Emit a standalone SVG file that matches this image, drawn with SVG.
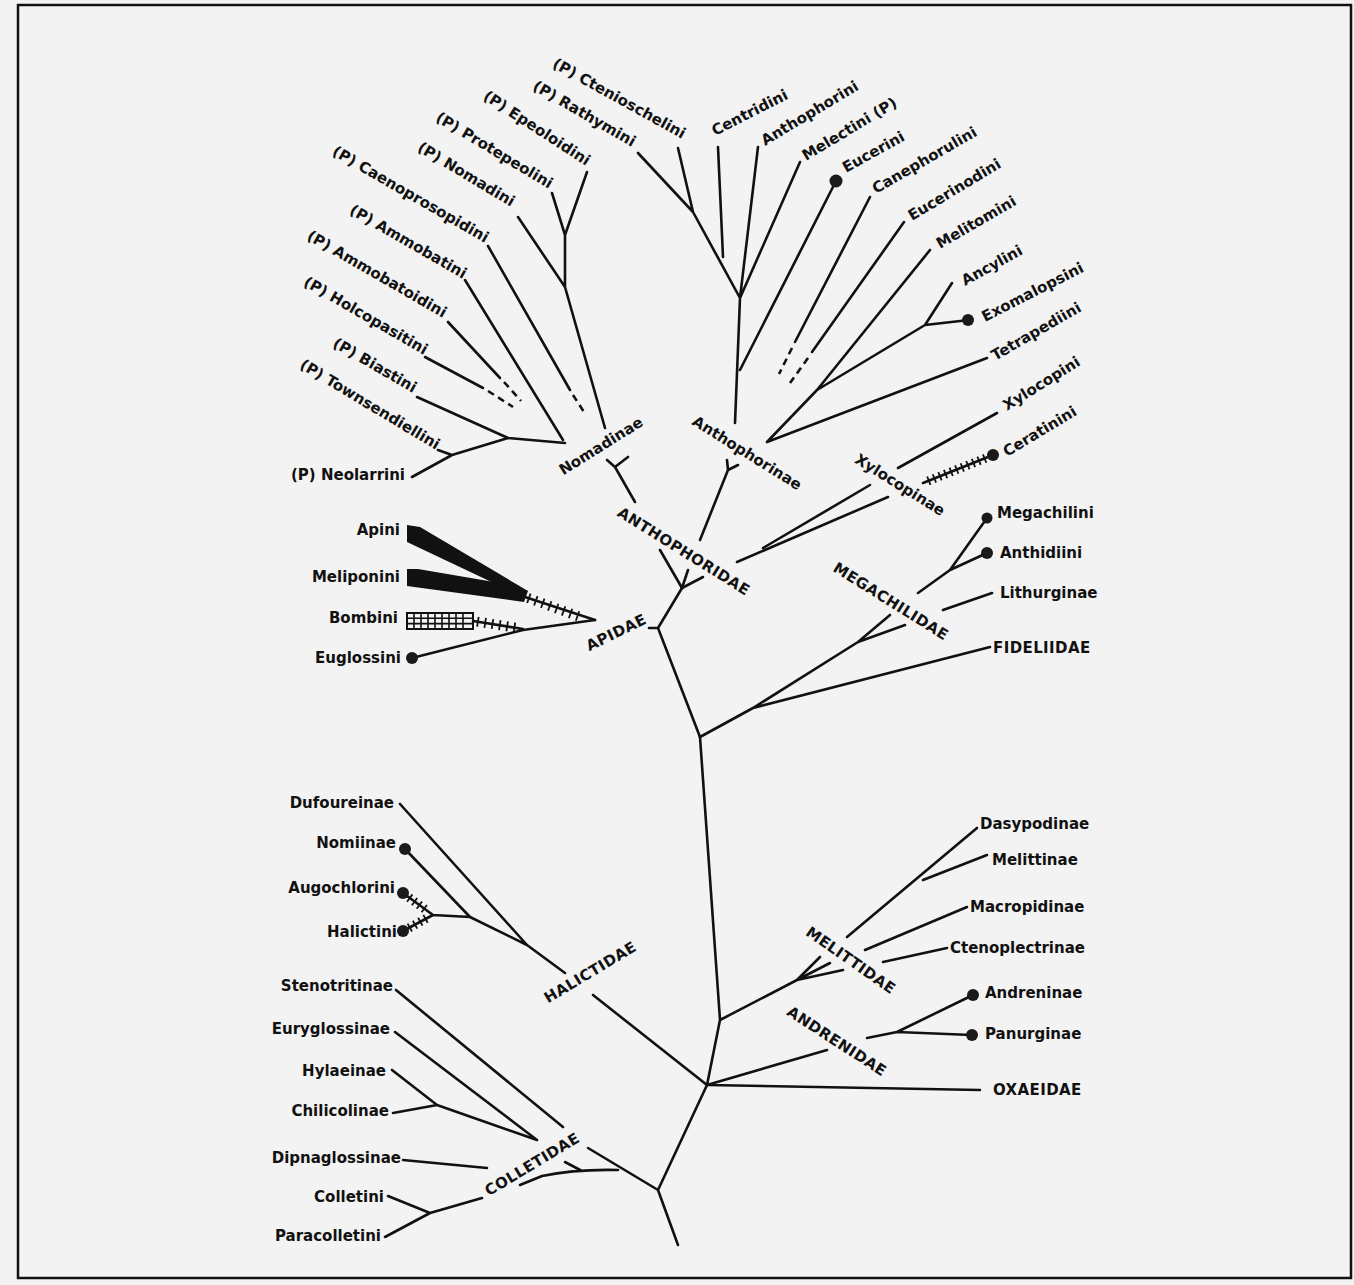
<svg xmlns="http://www.w3.org/2000/svg" width="1354" height="1285" viewBox="0 0 1354 1285">
<style>
.bg{fill:#f3f3f3}
.fr{fill:none;stroke:#111;stroke-width:2.5}
.e{fill:none;stroke:#111;stroke-width:2.6;stroke-linecap:round;stroke-linejoin:round}
.d{fill:none;stroke:#111;stroke-width:2.6;stroke-dasharray:7 5}
.tk{fill:none;stroke:#111;stroke-width:10;stroke-dasharray:1.8 5.6}
.tks{fill:none;stroke:#111;stroke-width:9;stroke-dasharray:1.8 4.2}
.dot{fill:#1a1a1a}
.w{fill:#111}
.g{fill:none;stroke:#111;stroke-width:1.6}
text{font-family:"DejaVu Sans","Liberation Sans",sans-serif;font-weight:bold;font-size:15px;fill:#111}
.f{font-size:15px;letter-spacing:0.4px}
.r{text-anchor:end}
.m{text-anchor:middle}
</style>
<rect class="bg" x="0" y="0" width="1354" height="1285"/>
<rect class="fr" x="18" y="5" width="1333" height="1273"/>

<g id="connectors">
<!-- Nomadinae group -->
<path class="e" d="M587,172 L565,235 M552,193 L565,235 M565,235 L565,287 M518,217 L565,287 M565,287 L605,428"/>
<path class="e" d="M488,246 L570,390"/><path class="d" d="M573,395 L584,412"/>
<path class="e" d="M465,280 L563,440"/>
<path class="e" d="M448,322 L500,378"/><path class="d" d="M504,382 L521,401"/>
<path class="e" d="M425,357 L483,388"/><path class="d" d="M488,391 L513,407"/>
<path class="e" d="M417,397 L508,438 M438,450 L452,455 M412,477 L452,455 L508,438 L565,443"/>
<path class="e" d="M607,460 L615,467 L628,457 M615,467 L635,502 M660,550 L682,588"/>
<!-- Anthophorinae group -->
<path class="e" d="M638,153 L693,212 M678,148 L693,212 L740,298 M718,147 L723,257 M758,147 L740,298 M800,162 L740,298 M836,181 L740,370 M740,298 L735,423"/>
<path class="e" d="M870,197 L795,342"/><path class="d" d="M792,348 L779,374"/>
<path class="e" d="M904,222 L812,352"/><path class="d" d="M808,358 L790,383"/>
<path class="e" d="M930,250 L817,390 M952,283 L925,325 L969,320 M925,325 L817,390 L767,442 M987,358 L767,442"/>
<path class="e" d="M727,460 L728,470 L738,465 M728,470 L700,540 M688,570 L682,588"/>
<!-- Xylocopinae -->
<path class="e" d="M682,588 L703,577 M737,562 L888,497 M763,548 L870,485 M898,468 L997,413 M923,483 L993,455"/>
<path class="tks" d="M928,481 L986,458"/>
<!-- Apidae -->
<path class="e" d="M682,588 L658,628 L700,737 M649,628 L658,628"/>
<polygon class="w" points="407,525 420,527 528,591 515,593 407,542"/>
<polygon class="w" points="407,569 418,569 500,583 528,591 524,602 407,586"/>
<path class="e" d="M525,597 L595,620"/>
<path class="tk" d="M528,598 L583,618"/>
<rect x="407" y="613" width="66" height="16" fill="#f3f3f3" stroke="#111" stroke-width="2"/>
<path class="g" d="M407,618.3 H473 M407,623.6 H473 M414,613 V629 M421,613 V629 M428,613 V629 M435,613 V629 M442,613 V629 M449,613 V629 M456,613 V629 M463,613 V629"/>
<path class="e" d="M473,621 L523,629 M412,658 L523,630 L595,620"/>
<path class="tk" d="M477,621.6 L518,628"/>
<!-- Megachilidae / Fideliidae -->
<path class="e" d="M700,737 L753,708 L858,642 L890,615 M858,642 L905,625 M753,708 L990,647 M918,593 L950,570 L987,518 M950,570 L987,553 M943,610 L992,593"/>
<!-- lower trunk -->
<path class="e" d="M700,737 L720,1020 L707,1085 M720,1020 L797,980 L820,957 M797,980 L830,963 M797,980 L843,970"/>
<path class="e" d="M847,937 L977,828 M923,880 L987,855 M865,950 L967,907 M883,962 L947,948"/>
<path class="e" d="M707,1085 L827,1050 M867,1038 L897,1032 L973,995 M897,1032 L972,1035 M707,1085 L980,1090"/>
<!-- Halictidae -->
<path class="e" d="M707,1085 L593,995 M565,973 L527,945 L400,804 M527,945 L470,917 L405,849 M470,917 L433,915 L403,893 M433,915 L403,931"/>
<path class="tks" d="M409,897.5 L426,910"/>
<path class="tks" d="M409,928 L427,918"/>
<!-- Colletidae -->
<path class="e" d="M707,1085 L658,1190 L678,1245 M658,1190 L588,1148 M618,1170 Q575,1169 542,1176 L520,1185 M582,1171 L565,1162"/>
<path class="e" d="M396,990 L563,1127 M395,1032 L537,1140 M392,1070 L437,1105 M393,1113 L437,1105 L537,1140 M403,1160 L487,1168 M388,1196 L430,1213 M385,1237 L430,1213 L482,1198"/>
</g>

<!-- Nomadinae leaves -->
<g id="ctenioschelini"><text class="r" transform="translate(682,139) rotate(29)">(P) Ctenioschelini</text></g>
<g id="rathymini"><text class="r" transform="translate(632,147) rotate(30)">(P) Rathymini</text></g>
<g id="epeoloidini"><text class="r" transform="translate(586,166) rotate(33)">(P) Epeoloidini</text></g>
<g id="protepeolini"><text class="r" transform="translate(549,189) rotate(31)">(P) Protepeolini</text></g>
<g id="nomadini"><text class="r" transform="translate(511,207) rotate(31)">(P) Nomadini</text></g>
<g id="caenoprosopidini"><text class="r" transform="translate(485,243) rotate(30)">(P) Caenoprosopidini</text></g>
<g id="ammobatini"><text class="r" transform="translate(463,279) rotate(30)">(P) Ammobatini</text></g>
<g id="ammobatoidini"><text class="r" transform="translate(443,318) rotate(30)">(P) Ammobatoidini</text></g>
<g id="holcopasitini"><text class="r" transform="translate(424,355) rotate(30)">(P) Holcopasitini</text></g>
<g id="biastini"><text class="r" transform="translate(413,393) rotate(30)">(P) Biastini</text></g>
<g id="townsendiellini"><text class="r" transform="translate(436,450) rotate(31)">(P) Townsendiellini</text></g>
<g id="neolarrini"><text class="r" x="405" y="480">(P) Neolarrini</text></g>

<!-- Anthophorinae leaves -->
<g id="centridini"><text transform="translate(715,136) rotate(-27)">Centridini</text></g>
<g id="anthophorini"><text transform="translate(765,146) rotate(-31)">Anthophorini</text></g>
<g id="melectini"><text transform="translate(806,161) rotate(-31)">Melectini (P)</text></g>
<g id="eucerini"><circle class="dot" cx="836" cy="181" r="6.5"/><text transform="translate(846,173) rotate(-29)">Eucerini</text></g>
<g id="canephorulini"><text transform="translate(876,194) rotate(-30)">Canephorulini</text></g>
<g id="eucerinodini"><text transform="translate(912,221) rotate(-31)">Eucerinodini</text></g>
<g id="melitomini"><text transform="translate(940,249) rotate(-30)">Melitomini</text></g>
<g id="ancylini"><text transform="translate(965,286) rotate(-29)">Ancylini</text></g>
<g id="exomalopsini"><circle class="dot" cx="968" cy="320" r="6"/><text transform="translate(985,322) rotate(-27)">Exomalopsini</text></g>
<g id="tetrapediini"><text transform="translate(995,361) rotate(-30)">Tetrapediini</text></g>
<g id="xylocopini"><text transform="translate(1007,411) rotate(-32)">Xylocopini</text></g>
<g id="ceratinini"><circle class="dot" cx="993" cy="455" r="6"/><text transform="translate(1007,457) rotate(-31)">Ceratinini</text></g>

<!-- subfamily / family labels -->
<g id="nomadinae"><text class="m" transform="translate(601,446) rotate(-32)" y="5">Nomadinae</text></g>
<g id="anthophorinae"><text class="m" transform="translate(747,453) rotate(32)" y="5">Anthophorinae</text></g>
<g id="xylocopinae"><text class="m" transform="translate(900,485) rotate(32)" y="5">Xylocopinae</text></g>
<g id="anthophoridae"><text class="m f" transform="translate(684,551) rotate(32)" y="5.5">ANTHOPHORIDAE</text></g>
<g id="apidae"><text class="m f" transform="translate(616,632) rotate(-26)" y="5.5">APIDAE</text></g>
<g id="megachilidae"><text class="m f" transform="translate(891,601) rotate(32)" y="5.5">MEGACHILIDAE</text></g>
<g id="melittidae"><text class="m f" transform="translate(851,960) rotate(35)" y="5.5">MELITTIDAE</text></g>
<g id="andrenidae"><text class="m f" transform="translate(837,1041) rotate(33)" y="5.5">ANDRENIDAE</text></g>
<g id="halictidae"><text class="m f" transform="translate(590,972) rotate(-31)" y="5.5">HALICTIDAE</text></g>
<g id="colletidae"><text class="m f" transform="translate(532,1164) rotate(-31)" y="5.5">COLLETIDAE</text></g>

<!-- Apidae leaves -->
<g id="apini"><text class="r" x="400" y="535">Apini</text></g>
<g id="meliponini"><text class="r" x="400" y="582">Meliponini</text></g>
<g id="bombini"><text class="r" x="398" y="623">Bombini</text></g>
<g id="euglossini"><circle class="dot" cx="412" cy="658" r="6"/><text class="r" x="401" y="663">Euglossini</text></g>

<!-- Megachilidae leaves -->
<g id="megachilini"><circle class="dot" cx="987" cy="518" r="5.5"/><text x="997" y="518">Megachilini</text></g>
<g id="anthidiini"><circle class="dot" cx="987" cy="553" r="6"/><text x="1000" y="558">Anthidiini</text></g>
<g id="lithurginae"><text x="1000" y="598">Lithurginae</text></g>
<g id="fideliidae"><text class="f" x="993" y="653">FIDELIIDAE</text></g>

<!-- Halictidae leaves -->
<g id="dufoureinae"><text class="r" x="394" y="808">Dufoureinae</text></g>
<g id="nomiinae"><circle class="dot" cx="405" cy="849" r="6"/><text class="r" x="396" y="848">Nomiinae</text></g>
<g id="augochlorini"><circle class="dot" cx="403" cy="893" r="6"/><text class="r" x="395" y="893">Augochlorini</text></g>
<g id="halictini"><circle class="dot" cx="403" cy="931" r="6"/><text class="r" x="397" y="937">Halictini</text></g>

<!-- Colletidae leaves -->
<g id="stenotritinae"><text class="r" x="393" y="991">Stenotritinae</text></g>
<g id="euryglossinae"><text class="r" x="390" y="1034">Euryglossinae</text></g>
<g id="hylaeinae"><text class="r" x="386" y="1076">Hylaeinae</text></g>
<g id="chilicolinae"><text class="r" x="389" y="1116">Chilicolinae</text></g>
<g id="dipnaglossinae"><text class="r" x="401" y="1163">Dipnaglossinae</text></g>
<g id="colletini"><text class="r" x="384" y="1202">Colletini</text></g>
<g id="paracolletini"><text class="r" x="381" y="1241">Paracolletini</text></g>

<!-- Melittidae / Andrenidae / Oxaeidae leaves -->
<g id="dasypodinae"><text x="980" y="829">Dasypodinae</text></g>
<g id="melittinae"><text x="992" y="865">Melittinae</text></g>
<g id="macropidinae"><text x="970" y="912">Macropidinae</text></g>
<g id="ctenoplectrinae"><text x="950" y="953">Ctenoplectrinae</text></g>
<g id="andreninae"><circle class="dot" cx="973" cy="995" r="6"/><text x="985" y="998">Andreninae</text></g>
<g id="panurginae"><circle class="dot" cx="972" cy="1035" r="6"/><text x="985" y="1039">Panurginae</text></g>
<g id="oxaeidae"><text class="f" x="993" y="1095">OXAEIDAE</text></g>
</svg>
